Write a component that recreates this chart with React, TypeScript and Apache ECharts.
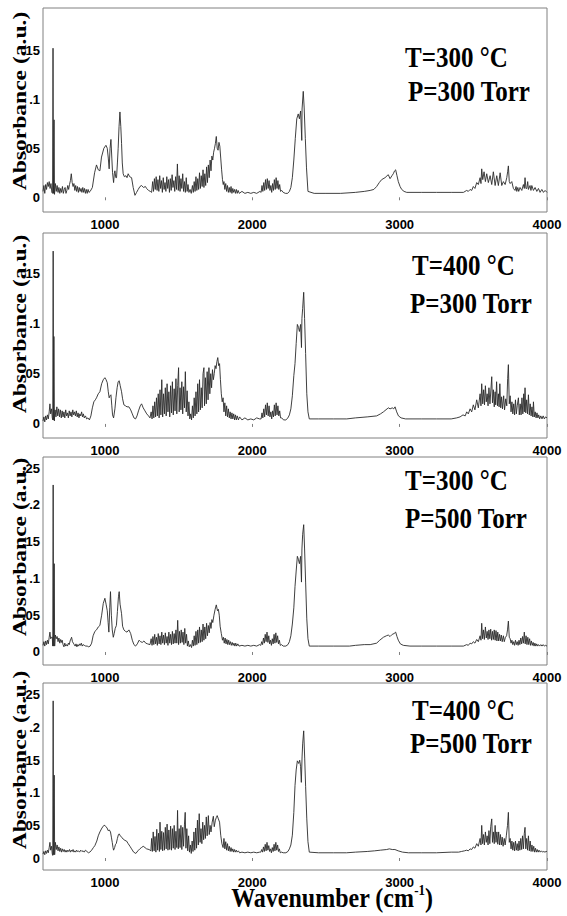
import React, { useEffect, useRef } from "react";
import * as echarts from "echarts";

// ---------- data ----------
const xTicks = [1000, 2000, 3000, 4000];
const yTicksLow = [0, 0.05, 0.1, 0.15];
const yTicksHigh = [0, 0.05, 0.1, 0.15, 0.2, 0.25];
const tempLabels = ["T=300 °C", "T=400 °C", "T=300 °C", "T=400 °C"];
const pressLabels = ["P=300 Torr", "P=300 Torr", "P=500 Torr", "P=500 Torr"];
const yAxisTitle = "Absorbance (a.u.)";

// Panel 1: T=300 °C, P=300 Torr  [wavenumber, absorbance]
const spec1: number[][] = [
  [580,0.006],[586,0.012],[592,0.004],[598,0.013],[604,0.008],[610,0.015],[616,0.011],[622,0.016],[628,0.009],[634,0.014],[640,0.005],[645,0.004],[648,0.152],[651,0.004],[655,0.079],[658,0.003],
  [664,0.014],[670,0.006],[676,0.012],[682,0.005],[688,0.010],[694,0.004],[700,0.009],[706,0.005],[712,0.011],[718,0.004],[724,0.008],[730,0.010],[736,0.004],[742,0.007],[748,0.012],[754,0.008],[760,0.013],[766,0.017],[772,0.024],[778,0.015],[784,0.011],[790,0.014],[796,0.007],[802,0.012],[808,0.006],[814,0.011],[820,0.005],[826,0.010],[832,0.006],[838,0.009],[844,0.005],[850,0.010],[856,0.005],[862,0.009],[868,0.004],[874,0.008],[880,0.004],[886,0.008],[892,0.005],[900,0.006],[915,0.010],
  [930,0.025],[943,0.033],[955,0.028],[966,0.027],[977,0.041],[993,0.050],[1007,0.053],[1016,0.050],[1023,0.040],[1029,0.029],[1035,0.050],[1041,0.059],[1047,0.040],[1052,0.025],[1059,0.015],[1064,0.024],[1068,0.027],[1074,0.020],[1079,0.020],[1085,0.035],[1090,0.050],[1096,0.072],[1102,0.087],[1108,0.072],[1113,0.055],[1118,0.035],[1124,0.024],[1132,0.021],[1143,0.022],[1150,0.020],[1158,0.024],[1168,0.021],[1181,0.020],[1192,0.010],[1204,0.002],[1215,0.005],[1226,0.008],[1238,0.011],[1249,0.012],[1262,0.010],[1275,0.011],[1283,0.009],[1296,0.007],[1308,0.006],[1317,0.005],
  [1324,0.016],[1330,0.006],[1336,0.019],[1342,0.008],[1348,0.021],[1354,0.007],[1360,0.018],[1366,0.006],[1372,0.022],[1378,0.009],[1384,0.017],[1390,0.005],[1396,0.020],[1402,0.008],[1408,0.015],[1414,0.006],[1420,0.021],[1426,0.009],[1432,0.018],[1438,0.005],[1444,0.019],[1450,0.007],[1456,0.023],[1462,0.010],[1468,0.017],[1474,0.006],[1480,0.021],[1486,0.008],[1492,0.034],[1498,0.007],[1504,0.022],[1510,0.006],[1516,0.019],[1522,0.009],[1528,0.024],[1534,0.006],[1540,0.016],[1546,0.005],[1552,0.020],[1558,0.006],[1564,0.013],[1570,0.005],[1578,0.008],[1586,0.004],
  [1594,0.012],[1600,0.005],[1606,0.016],[1612,0.006],[1618,0.021],[1624,0.007],[1630,0.019],[1636,0.008],[1642,0.025],[1648,0.009],[1654,0.022],[1660,0.011],[1666,0.028],[1672,0.010],[1678,0.024],[1684,0.012],[1690,0.031],[1696,0.015],[1702,0.033],[1708,0.020],[1714,0.038],[1720,0.027],[1726,0.042],[1732,0.038],[1738,0.046],[1744,0.050],[1750,0.055],[1756,0.062],[1762,0.050],[1768,0.048],[1774,0.056],[1780,0.052],[1786,0.040],[1792,0.028],[1798,0.018],[1803,0.013],
  [1808,0.016],[1814,0.008],[1820,0.014],[1826,0.006],[1832,0.012],[1838,0.005],[1844,0.010],[1850,0.005],[1856,0.011],[1862,0.004],[1868,0.009],[1874,0.005],[1880,0.008],[1886,0.004],[1892,0.008],[1898,0.004],[1904,0.007],[1912,0.004],
  [1930,0.006],[1950,0.004],[1970,0.005],[1990,0.004],[2010,0.005],[2030,0.004],[2052,0.006],
  [2060,0.005],[2066,0.012],[2072,0.006],[2078,0.015],[2084,0.007],[2090,0.018],[2096,0.008],[2102,0.019],[2108,0.009],[2114,0.017],[2120,0.007],[2126,0.012],[2132,0.005],[2138,0.014],[2144,0.007],[2150,0.018],[2156,0.008],[2162,0.020],[2168,0.009],[2174,0.017],[2180,0.008],[2186,0.013],[2192,0.006],[2200,0.007],[2210,0.005],
  [2225,0.004],[2240,0.004],[2252,0.006],[2262,0.010],[2272,0.020],[2282,0.038],[2292,0.060],[2302,0.080],[2312,0.085],[2320,0.080],[2328,0.088],[2336,0.058],[2338,0.090],[2346,0.108],[2352,0.092],[2360,0.060],[2368,0.030],[2378,0.006],
  [2420,0.004],[2500,0.004],[2600,0.004],[2700,0.005],[2760,0.006],[2800,0.007],[2825,0.008],[2844,0.011],[2862,0.015],[2878,0.018],[2901,0.020],[2915,0.022],[2923,0.023],[2935,0.019],[2948,0.022],[2957,0.024],[2966,0.027],[2973,0.028],[2982,0.022],[2991,0.016],[3003,0.011],[3014,0.008],[3030,0.006],[3048,0.005],[3150,0.005],[3250,0.005],[3350,0.005],[3433,0.005],
  [3455,0.007],[3466,0.006],[3478,0.008],[3489,0.007],[3500,0.011],[3511,0.009],[3523,0.015],[3534,0.013],[3546,0.020],[3552,0.014],[3557,0.029],[3564,0.018],[3573,0.026],[3582,0.016],[3591,0.024],[3602,0.015],[3614,0.022],[3625,0.013],[3636,0.026],[3648,0.012],[3659,0.022],[3670,0.012],[3682,0.025],[3693,0.012],[3704,0.016],[3716,0.013],[3727,0.020],[3733,0.026],[3738,0.032],[3744,0.016],[3750,0.014],[3761,0.016],[3772,0.009],[3783,0.007],[3790,0.011],[3795,0.006],[3802,0.010],[3808,0.006],[3817,0.010],[3829,0.007],[3840,0.013],[3846,0.009],[3851,0.020],[3857,0.009],[3863,0.009],[3869,0.016],[3874,0.008],[3885,0.012],[3891,0.007],[3897,0.012],[3908,0.007],[3919,0.010],[3931,0.006],[3942,0.009],[3953,0.005],[3965,0.008],[3976,0.005],[3987,0.007],[4000,0.005]
];

// Panel 2: T=400 °C, P=300 Torr
const spec2: number[][] = [
  [580,0.003],[586,0.007],[592,0.002],[598,0.008],[604,0.004],[610,0.009],[616,0.005],[622,0.012],[627,0.020],[632,0.010],[638,0.015],[643,0.006],[646,0.004],[649,0.172],[652,0.004],[654,0.087],[657,0.003],
  [662,0.014],[668,0.007],[674,0.017],[680,0.008],[686,0.015],[692,0.007],[698,0.014],[704,0.006],[710,0.013],[716,0.007],[722,0.012],[728,0.006],[734,0.014],[740,0.008],[746,0.011],[752,0.006],[758,0.013],[764,0.008],[770,0.012],[776,0.007],[782,0.014],[788,0.009],[794,0.012],[800,0.008],[806,0.013],[812,0.007],[818,0.011],[824,0.006],[830,0.010],[836,0.008],[842,0.012],[848,0.007],[854,0.010],[860,0.006],[868,0.008],[876,0.005],[885,0.006],[895,0.004],[905,0.008],
  [915,0.016],[925,0.022],[935,0.024],[943,0.026],[955,0.030],[966,0.032],[978,0.040],[989,0.044],[1000,0.046],[1008,0.044],[1016,0.041],[1023,0.032],[1029,0.026],[1035,0.028],[1041,0.029],[1047,0.018],[1052,0.009],[1059,0.006],[1068,0.015],[1075,0.026],[1083,0.036],[1090,0.042],[1097,0.043],[1104,0.038],[1113,0.032],[1120,0.025],[1129,0.019],[1140,0.018],[1150,0.017],[1163,0.017],[1175,0.014],[1186,0.010],[1197,0.006],[1208,0.005],[1218,0.008],[1228,0.013],[1240,0.018],[1249,0.020],[1260,0.016],[1272,0.013],[1284,0.010],[1296,0.008],[1306,0.006],
  [1314,0.012],[1320,0.005],[1326,0.018],[1332,0.006],[1338,0.022],[1344,0.007],[1350,0.026],[1356,0.008],[1362,0.030],[1368,0.006],[1374,0.034],[1380,0.009],[1386,0.044],[1392,0.007],[1398,0.030],[1404,0.010],[1410,0.036],[1416,0.008],[1422,0.040],[1428,0.012],[1434,0.032],[1440,0.007],[1446,0.038],[1452,0.011],[1458,0.042],[1464,0.009],[1470,0.035],[1476,0.013],[1482,0.045],[1488,0.010],[1494,0.038],[1500,0.056],[1504,0.012],[1510,0.036],[1516,0.014],[1522,0.042],[1528,0.010],[1534,0.037],[1540,0.016],[1546,0.052],[1552,0.012],[1558,0.033],[1564,0.008],[1570,0.022],[1576,0.005],[1582,0.010],[1588,0.004],
  [1594,0.018],[1600,0.006],[1606,0.026],[1612,0.008],[1618,0.032],[1624,0.010],[1630,0.040],[1636,0.012],[1642,0.044],[1648,0.014],[1654,0.036],[1660,0.016],[1666,0.050],[1672,0.056],[1676,0.018],[1682,0.046],[1688,0.020],[1694,0.052],[1700,0.024],[1706,0.056],[1712,0.030],[1718,0.050],[1724,0.036],[1730,0.054],[1736,0.044],[1742,0.050],[1748,0.058],[1754,0.055],[1760,0.062],[1766,0.066],[1772,0.058],[1778,0.060],[1784,0.044],[1790,0.030],[1796,0.022],[1802,0.026],
  [1808,0.012],[1814,0.021],[1820,0.008],[1826,0.018],[1832,0.007],[1838,0.015],[1844,0.006],[1850,0.012],[1856,0.005],[1862,0.011],[1868,0.005],[1874,0.010],[1880,0.004],[1886,0.009],[1892,0.004],[1898,0.008],[1906,0.004],[1914,0.007],
  [1930,0.004],[1950,0.006],[1970,0.004],[1990,0.005],[2010,0.004],[2030,0.006],[2050,0.005],
  [2060,0.005],[2066,0.011],[2072,0.006],[2078,0.015],[2084,0.007],[2090,0.019],[2096,0.009],[2102,0.021],[2108,0.008],[2114,0.018],[2120,0.007],[2126,0.012],[2132,0.005],[2138,0.013],[2144,0.007],[2150,0.019],[2156,0.008],[2162,0.021],[2168,0.009],[2174,0.018],[2180,0.008],[2186,0.013],[2192,0.006],[2200,0.006],[2212,0.004],[2228,0.004],[2242,0.006],
  [2252,0.009],[2262,0.015],[2272,0.028],[2282,0.048],[2290,0.060],[2298,0.080],[2306,0.099],[2314,0.096],[2320,0.092],[2328,0.099],[2334,0.076],[2337,0.105],[2342,0.115],[2349,0.131],[2355,0.105],[2362,0.070],[2370,0.030],[2378,0.012],[2387,0.005],
  [2450,0.005],[2550,0.005],[2641,0.005],[2700,0.006],[2780,0.007],[2844,0.008],[2870,0.010],[2890,0.012],[2915,0.015],[2924,0.016],[2935,0.015],[2950,0.016],[2960,0.015],[2969,0.017],[2980,0.012],[2992,0.008],[3010,0.006],[3040,0.005],[3150,0.005],[3250,0.005],[3350,0.005],[3387,0.006],
  [3410,0.007],[3430,0.009],[3445,0.008],[3455,0.012],[3466,0.010],[3478,0.015],[3489,0.012],[3500,0.019],[3511,0.014],[3523,0.024],[3534,0.016],[3546,0.030],[3552,0.018],[3557,0.040],[3564,0.020],[3570,0.034],[3576,0.019],[3582,0.038],[3588,0.022],[3594,0.030],[3600,0.018],[3606,0.036],[3613,0.020],[3625,0.047],[3630,0.021],[3636,0.034],[3642,0.017],[3648,0.032],[3652,0.019],[3658,0.042],[3664,0.018],[3670,0.030],[3675,0.017],[3680,0.040],[3686,0.016],[3692,0.027],[3698,0.015],[3706,0.028],[3712,0.014],[3720,0.025],[3727,0.018],[3733,0.045],[3738,0.059],[3744,0.020],[3750,0.028],[3756,0.012],[3762,0.022],[3768,0.010],[3774,0.020],[3780,0.009],[3786,0.024],[3792,0.010],[3798,0.018],[3806,0.026],[3812,0.009],[3818,0.020],[3824,0.009],[3830,0.026],[3836,0.010],[3842,0.030],[3846,0.012],[3851,0.036],[3856,0.011],[3862,0.024],[3868,0.010],[3874,0.029],[3880,0.009],[3886,0.020],[3892,0.008],[3898,0.017],[3904,0.007],[3908,0.022],[3914,0.007],[3920,0.012],[3926,0.006],[3932,0.011],[3938,0.006],[3944,0.009],[3950,0.005],[3958,0.008],[3966,0.005],[3974,0.008],[3982,0.005],[3990,0.007],[4000,0.006]
];

// Panel 3: T=300 °C, P=500 Torr
const spec3: number[][] = [
  [580,0.009],[586,0.014],[592,0.008],[598,0.015],[604,0.010],[610,0.016],[616,0.011],[622,0.020],[627,0.027],[632,0.018],[638,0.020],[643,0.020],[646,0.008],[649,0.227],[652,0.008],[656,0.120],[659,0.008],
  [664,0.023],[670,0.018],[676,0.021],[682,0.014],[688,0.019],[694,0.012],[700,0.017],[706,0.013],[710,0.016],[716,0.010],[722,0.007],[728,0.012],[734,0.008],[740,0.010],[746,0.008],[752,0.012],[758,0.010],[764,0.015],[770,0.018],[774,0.020],[780,0.014],[786,0.012],[792,0.010],[798,0.008],[804,0.011],[810,0.007],[816,0.010],[822,0.008],[828,0.011],[834,0.009],[840,0.012],[846,0.008],[852,0.010],[860,0.009],[870,0.008],[880,0.008],[890,0.007],[900,0.008],[910,0.012],
  [920,0.022],[932,0.028],[943,0.030],[955,0.034],[966,0.036],[978,0.050],[989,0.066],[1000,0.073],[1008,0.065],[1016,0.056],[1022,0.040],[1027,0.027],[1033,0.060],[1038,0.082],[1044,0.050],[1050,0.030],[1057,0.020],[1063,0.025],[1070,0.032],[1078,0.036],[1085,0.055],[1092,0.075],[1097,0.082],[1103,0.065],[1113,0.052],[1120,0.035],[1129,0.030],[1140,0.028],[1150,0.027],[1163,0.030],[1175,0.025],[1186,0.016],[1197,0.010],[1208,0.008],[1220,0.011],[1232,0.016],[1242,0.014],[1254,0.013],[1265,0.015],[1277,0.012],[1290,0.011],[1306,0.010],
  [1314,0.018],[1320,0.009],[1326,0.021],[1332,0.010],[1338,0.024],[1344,0.011],[1350,0.020],[1356,0.009],[1362,0.025],[1368,0.011],[1374,0.022],[1380,0.010],[1386,0.027],[1392,0.012],[1398,0.023],[1404,0.010],[1410,0.026],[1416,0.012],[1422,0.021],[1428,0.009],[1434,0.027],[1440,0.012],[1446,0.024],[1452,0.010],[1458,0.028],[1464,0.011],[1470,0.025],[1476,0.012],[1482,0.030],[1488,0.012],[1494,0.043],[1500,0.010],[1506,0.028],[1512,0.012],[1518,0.030],[1524,0.013],[1530,0.027],[1536,0.010],[1542,0.032],[1548,0.012],[1554,0.024],[1560,0.008],[1566,0.015],[1572,0.007],[1580,0.010],[1588,0.006],
  [1594,0.016],[1600,0.008],[1606,0.022],[1612,0.009],[1618,0.028],[1624,0.010],[1630,0.030],[1636,0.012],[1642,0.034],[1648,0.013],[1654,0.030],[1660,0.014],[1666,0.038],[1672,0.016],[1678,0.034],[1684,0.018],[1690,0.039],[1696,0.022],[1702,0.036],[1708,0.026],[1714,0.040],[1720,0.032],[1726,0.044],[1732,0.040],[1740,0.050],[1748,0.058],[1756,0.064],[1764,0.056],[1770,0.058],[1776,0.050],[1782,0.035],[1790,0.025],[1798,0.016],
  [1804,0.020],[1810,0.012],[1816,0.019],[1822,0.011],[1828,0.017],[1834,0.010],[1840,0.016],[1846,0.010],[1852,0.014],[1858,0.009],[1864,0.013],[1870,0.009],[1876,0.012],[1882,0.008],[1888,0.012],[1894,0.008],[1902,0.011],[1910,0.008],
  [1930,0.009],[1950,0.008],[1970,0.009],[1990,0.008],[2010,0.009],[2030,0.008],[2050,0.010],
  [2058,0.009],[2064,0.014],[2070,0.010],[2076,0.019],[2082,0.012],[2088,0.024],[2094,0.014],[2100,0.027],[2106,0.013],[2112,0.022],[2118,0.011],[2124,0.016],[2130,0.009],[2136,0.018],[2142,0.011],[2148,0.024],[2154,0.012],[2160,0.026],[2166,0.013],[2172,0.022],[2178,0.011],[2184,0.016],[2190,0.009],[2198,0.010],[2210,0.008],[2228,0.008],[2242,0.010],
  [2252,0.014],[2262,0.022],[2272,0.038],[2282,0.060],[2290,0.089],[2298,0.110],[2306,0.130],[2313,0.126],[2320,0.120],[2328,0.130],[2334,0.095],[2337,0.140],[2342,0.160],[2349,0.173],[2355,0.140],[2362,0.095],[2370,0.045],[2378,0.018],[2387,0.008],
  [2450,0.008],[2550,0.008],[2660,0.008],[2700,0.009],[2760,0.010],[2800,0.010],[2844,0.012],[2865,0.016],[2890,0.020],[2910,0.022],[2923,0.023],[2935,0.021],[2950,0.024],[2962,0.025],[2973,0.027],[2982,0.021],[2991,0.016],[3005,0.011],[3025,0.009],[3070,0.008],[3150,0.008],[3250,0.008],[3350,0.008],[3433,0.008],
  [3455,0.010],[3466,0.009],[3478,0.012],[3489,0.011],[3500,0.014],[3511,0.012],[3523,0.017],[3534,0.014],[3546,0.022],[3552,0.016],[3557,0.039],[3563,0.018],[3569,0.030],[3575,0.017],[3582,0.034],[3588,0.019],[3594,0.028],[3600,0.017],[3606,0.030],[3612,0.018],[3618,0.031],[3624,0.016],[3630,0.028],[3636,0.017],[3642,0.030],[3648,0.016],[3654,0.029],[3660,0.015],[3666,0.027],[3672,0.015],[3678,0.024],[3684,0.015],[3690,0.023],[3696,0.014],[3704,0.022],[3710,0.014],[3718,0.020],[3726,0.022],[3732,0.030],[3738,0.042],[3744,0.020],[3750,0.018],[3756,0.012],[3762,0.016],[3768,0.010],[3774,0.014],[3780,0.009],[3786,0.016],[3792,0.010],[3798,0.014],[3804,0.009],[3810,0.016],[3816,0.010],[3822,0.019],[3828,0.011],[3834,0.021],[3840,0.012],[3846,0.027],[3852,0.011],[3858,0.022],[3864,0.010],[3870,0.020],[3876,0.010],[3882,0.018],[3888,0.009],[3894,0.015],[3900,0.009],[3906,0.013],[3912,0.008],[3918,0.012],[3924,0.008],[3930,0.011],[3936,0.008],[3942,0.010],[3950,0.008],[3958,0.010],[3966,0.008],[3974,0.010],[3982,0.008],[3990,0.009],[4000,0.008]
];

// Panel 4: T=400 °C, P=500 Torr
const spec4: number[][] = [
  [580,0.006],[586,0.010],[592,0.005],[598,0.011],[604,0.007],[610,0.012],[616,0.008],[622,0.016],[627,0.024],[632,0.012],[638,0.018],[643,0.006],[646,0.004],[649,0.241],[652,0.005],[656,0.127],[659,0.005],
  [664,0.024],[670,0.013],[676,0.020],[682,0.011],[688,0.017],[694,0.010],[700,0.015],[706,0.009],[712,0.014],[718,0.010],[724,0.013],[730,0.009],[736,0.012],[742,0.009],[748,0.012],[754,0.010],[760,0.013],[766,0.009],[772,0.012],[778,0.010],[784,0.013],[790,0.009],[796,0.011],[802,0.009],[808,0.012],[814,0.010],[820,0.011],[828,0.009],[836,0.012],[844,0.010],[852,0.011],[860,0.009],[868,0.012],[878,0.010],[888,0.008],[898,0.009],[910,0.012],
  [922,0.016],[932,0.019],[945,0.026],[955,0.034],[966,0.040],[980,0.046],[993,0.050],[1000,0.050],[1007,0.048],[1015,0.046],[1022,0.042],[1030,0.043],[1038,0.040],[1044,0.032],[1050,0.024],[1055,0.016],[1059,0.012],[1066,0.016],[1072,0.021],[1077,0.022],[1085,0.030],[1092,0.036],[1097,0.037],[1105,0.034],[1113,0.032],[1124,0.029],[1136,0.027],[1147,0.026],[1158,0.022],[1170,0.018],[1181,0.014],[1195,0.009],[1210,0.007],[1224,0.011],[1237,0.014],[1248,0.016],[1260,0.018],[1272,0.016],[1283,0.014],[1300,0.013],[1312,0.011],
  [1317,0.030],[1322,0.010],[1328,0.040],[1334,0.011],[1340,0.033],[1346,0.009],[1352,0.044],[1358,0.012],[1364,0.038],[1370,0.010],[1374,0.055],[1380,0.013],[1386,0.041],[1392,0.011],[1398,0.039],[1404,0.012],[1410,0.047],[1416,0.014],[1422,0.052],[1428,0.012],[1434,0.043],[1440,0.013],[1446,0.049],[1452,0.012],[1458,0.045],[1464,0.015],[1470,0.050],[1476,0.013],[1482,0.041],[1488,0.016],[1493,0.073],[1498,0.014],[1504,0.045],[1510,0.016],[1516,0.050],[1522,0.013],[1528,0.047],[1534,0.018],[1540,0.052],[1545,0.070],[1550,0.015],[1556,0.045],[1562,0.011],[1568,0.034],[1574,0.009],[1580,0.020],[1586,0.007],
  [1592,0.026],[1598,0.010],[1604,0.040],[1610,0.012],[1616,0.046],[1622,0.015],[1628,0.058],[1634,0.020],[1640,0.068],[1646,0.024],[1652,0.045],[1658,0.022],[1664,0.055],[1670,0.028],[1676,0.050],[1682,0.030],[1688,0.063],[1694,0.034],[1702,0.065],[1708,0.036],[1714,0.050],[1720,0.040],[1728,0.055],[1736,0.064],[1742,0.048],[1750,0.058],[1756,0.062],[1762,0.065],[1770,0.060],[1778,0.055],[1786,0.035],[1794,0.022],[1802,0.016],
  [1808,0.030],[1814,0.014],[1820,0.025],[1826,0.012],[1832,0.022],[1838,0.011],[1844,0.018],[1850,0.010],[1856,0.016],[1862,0.010],[1868,0.014],[1874,0.009],[1880,0.013],[1886,0.009],[1892,0.012],[1898,0.009],[1906,0.011],[1914,0.008],
  [1930,0.009],[1950,0.008],[1970,0.009],[1990,0.008],[2010,0.009],[2030,0.008],[2050,0.009],
  [2058,0.009],[2064,0.013],[2070,0.009],[2076,0.017],[2082,0.010],[2088,0.021],[2094,0.011],[2100,0.024],[2106,0.012],[2112,0.019],[2118,0.010],[2124,0.014],[2130,0.008],[2136,0.016],[2142,0.010],[2148,0.021],[2154,0.011],[2160,0.024],[2166,0.012],[2172,0.020],[2178,0.010],[2184,0.014],[2190,0.008],[2198,0.009],[2210,0.008],[2228,0.008],[2242,0.010],
  [2252,0.014],[2262,0.020],[2272,0.035],[2282,0.070],[2290,0.111],[2298,0.135],[2306,0.149],[2315,0.145],[2322,0.150],[2328,0.140],[2333,0.116],[2338,0.155],[2342,0.175],[2349,0.195],[2356,0.152],[2362,0.110],[2370,0.060],[2378,0.025],[2387,0.009],
  [2450,0.008],[2550,0.008],[2640,0.008],[2700,0.009],[2780,0.010],[2830,0.011],[2870,0.012],[2912,0.013],[2930,0.014],[2950,0.013],[2968,0.013],[2990,0.011],[3020,0.009],[3060,0.008],[3150,0.008],[3250,0.008],[3350,0.009],[3400,0.009],
  [3420,0.010],[3440,0.011],[3455,0.012],[3466,0.011],[3478,0.014],[3489,0.013],[3500,0.017],[3511,0.015],[3523,0.022],[3534,0.018],[3546,0.030],[3552,0.020],[3557,0.050],[3563,0.022],[3569,0.036],[3575,0.020],[3582,0.040],[3588,0.024],[3594,0.034],[3600,0.020],[3606,0.042],[3612,0.022],[3618,0.048],[3625,0.060],[3630,0.024],[3636,0.040],[3642,0.022],[3648,0.050],[3654,0.024],[3660,0.040],[3666,0.021],[3672,0.040],[3678,0.020],[3684,0.036],[3690,0.020],[3696,0.032],[3702,0.018],[3710,0.030],[3716,0.020],[3724,0.034],[3732,0.050],[3738,0.070],[3744,0.024],[3750,0.030],[3756,0.014],[3762,0.026],[3768,0.012],[3774,0.024],[3780,0.011],[3786,0.026],[3792,0.012],[3798,0.022],[3804,0.011],[3810,0.026],[3816,0.012],[3822,0.030],[3828,0.013],[3834,0.034],[3840,0.014],[3846,0.038],[3851,0.047],[3856,0.014],[3862,0.030],[3868,0.012],[3874,0.034],[3880,0.011],[3886,0.026],[3892,0.010],[3898,0.020],[3904,0.010],[3910,0.018],[3916,0.009],[3922,0.015],[3928,0.009],[3934,0.013],[3940,0.009],[3946,0.012],[3954,0.009],[3962,0.011],[3970,0.009],[3978,0.010],[3986,0.009],[3994,0.010],[4000,0.010]
];

const spectra = [spec1, spec2, spec3, spec4];
const xMin = 580;
const xMax = 4000;
const yMins = [-0.015, -0.014, -0.0177, -0.0184];
const yMaxs = [0.193, 0.19, 0.265, 0.2684];
const yTickSets = [yTicksLow, yTicksLow, yTicksHigh, yTicksHigh];

// ---------- layout ----------
const W = 567;
const H = 916;
const plotLeft = 43;
const plotWidth = 504;
const panelTops = [8, 233, 457, 683];
const panelHeights = [204, 205, 208, 187];
const nameCenters = [101, 324, 547, 760];
const tempPos = [[405, 57], [412, 265], [405, 480], [412, 710]];
const pressPos = [[408, 91], [410, 303], [405, 518], [410, 743]];

const tickFont = "'Liberation Sans Narrow', 'Liberation Sans', Arial, sans-serif";
const serif = "'Liberation Serif', 'Times New Roman', serif";

function buildOption() {
  const grid = panelTops.map((top, i) => ({
    left: plotLeft,
    width: plotWidth,
    top,
    height: panelHeights[i],
    show: true,
    borderColor: "#808080",
    borderWidth: 1,
    backgroundColor: "transparent",
  }));
  const xAxis = panelTops.map((_, i) => ({
    type: "value",
    gridIndex: i,
    min: xMin,
    max: xMax,
    axisLine: { show: false },
    axisTick: { show: true, length: 3, lineStyle: { color: "#808080" }, customValues: xTicks },
    axisLabel: {
      customValues: xTicks,
      margin: 6,
      color: "#000",
      fontFamily: tickFont,
      fontWeight: "bold",
      fontSize: 13,
      formatter: (v: number) => String(Math.round(v)),
    },
    splitLine: { show: false },
  }));
  const yAxis = panelTops.map((_, i) => ({
    type: "value",
    gridIndex: i,
    min: yMins[i],
    max: yMaxs[i],
    axisLine: { show: false },
    axisTick: { show: false, customValues: yTickSets[i] },
    axisLabel: {
      customValues: yTickSets[i],
      margin: 3,
      color: "#000",
      fontFamily: tickFont,
      fontWeight: "bold",
      fontSize: 13,
      formatter: (v: number) => (v === 0 ? "0" : String(v).replace(/^0/, "")),
    },
    splitLine: { show: false },
  }));
  const series = spectra.map((d, i) => ({
    type: "line",
    xAxisIndex: i,
    yAxisIndex: i,
    data: d,
    showSymbol: false,
    symbol: "none",
    silent: true,
    lineStyle: { width: 0.9, color: "#2a2a2a" },
  }));

  const graphic: any[] = [];
  nameCenters.forEach((cy) => {
    graphic.push({
      type: "text",
      x: 20,
      y: cy,
      rotation: Math.PI / 2,
      scaleX: 1.24,
      silent: true,
      style: {
        text: yAxisTitle,
        font: `bold 19px ${serif}`,
        fill: "#000",
        align: "center",
        verticalAlign: "middle",
        textAlign: "center",
        textVerticalAlign: "middle",
      },
    });
  });
  tempLabels.forEach((t, i) => {
    graphic.push({
      type: "text",
      x: tempPos[i][0],
      y: tempPos[i][1],
      scaleY: 1.2,
      silent: true,
      style: {
        text: t,
        font: `bold 25px ${serif}`,
        fill: "#000",
        align: "left",
        verticalAlign: "middle",
        textAlign: "left",
        textVerticalAlign: "middle",
      },
    });
    graphic.push({
      type: "text",
      x: pressPos[i][0],
      y: pressPos[i][1],
      scaleY: 1.2,
      silent: true,
      style: {
        text: pressLabels[i],
        font: `bold 25px ${serif}`,
        fill: "#000",
        align: "left",
        verticalAlign: "middle",
        textAlign: "left",
        textVerticalAlign: "middle",
      },
    });
  });
  graphic.push({
    type: "text",
    x: 332,
    y: 898,
    scaleY: 1.12,
    silent: true,
    style: {
      text: "{m|Wavenumber (cm}{s|-1}{m|)}",
      fill: "#000",
      align: "center",
      verticalAlign: "middle",
      textAlign: "center",
      textVerticalAlign: "middle",
      rich: {
        m: { font: `bold 24px ${serif}`, fill: "#000", lineHeight: 26 },
        s: { font: `bold 13px ${serif}`, fill: "#000", verticalAlign: "top", lineHeight: 26 },
      },
    },
  });

  return { animation: false, backgroundColor: "#fff", grid, xAxis, yAxis, series, graphic };
}

export default function App() {
  const ref = useRef<HTMLDivElement>(null);
  useEffect(() => {
    if (!ref.current) return;
    const chart = echarts.init(ref.current, null, { renderer: "svg" });
    chart.setOption(buildOption() as any);
    return () => chart.dispose();
  }, []);
  return (
    <div
      ref={ref}
      style={{ position: "absolute", left: 0, top: 0, width: W, height: H, background: "#fff" }}
    />
  );
}
